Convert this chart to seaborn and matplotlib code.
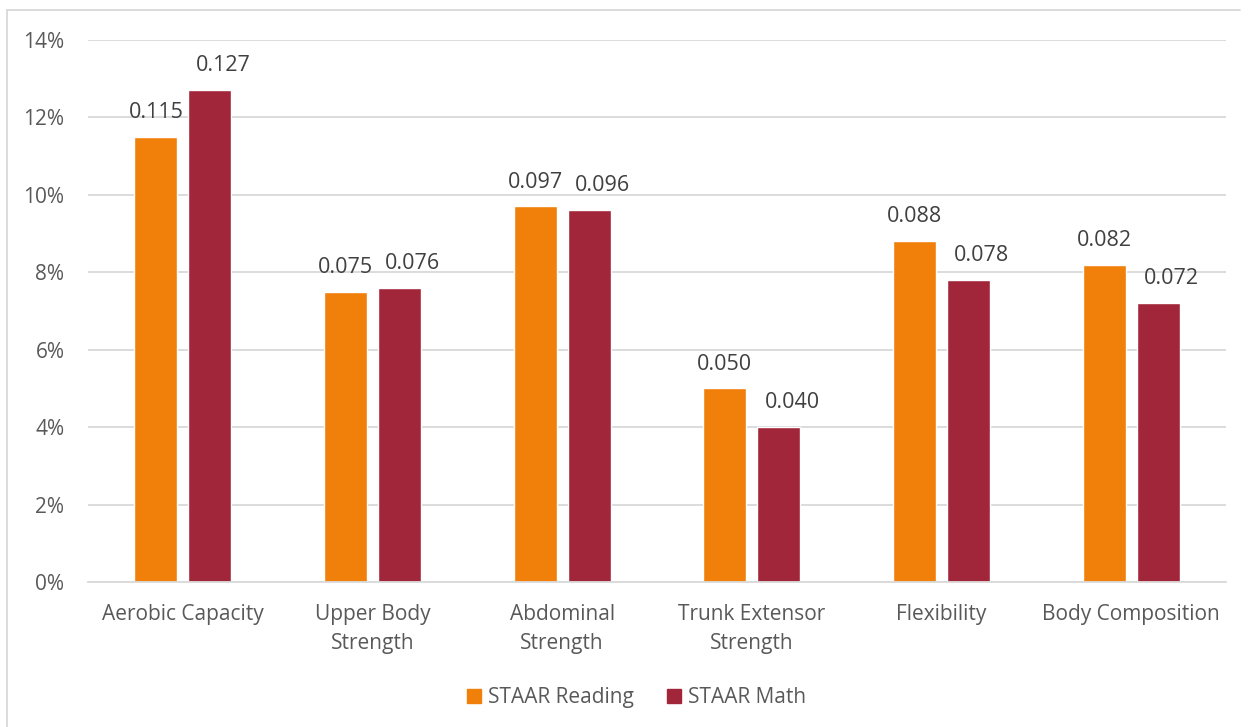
import matplotlib
matplotlib.use("Agg")
import matplotlib.pyplot as plt
import matplotlib.ticker as mticker
from matplotlib.lines import Line2D
import pandas as pd
import seaborn as sns

categories = ["Aerobic Capacity", "Upper Body\nStrength", "Abdominal\nStrength",
              "Trunk Extensor\nStrength", "Flexibility", "Body Composition"]
reading = [0.115, 0.075, 0.097, 0.050, 0.088, 0.082]
math = [0.127, 0.076, 0.096, 0.040, 0.078, 0.072]
series = ["STAAR Reading", "STAAR Math"]
colors = ["#F0800A", "#A22639"]
y_ticks = [0, 0.02, 0.04, 0.06, 0.08, 0.10, 0.12, 0.14]

df = pd.DataFrame({
    "category": categories * 2,
    "value": reading + math,
    "series": [series[0]] * len(categories) + [series[1]] * len(categories),
})

sns.set_theme(style="white")
plt.rcParams["font.family"] = ["Open Sans", "DejaVu Sans"]
text_color = "#595959"
grid_color = "#D9D9D9"
fs = 15

fig = plt.figure(figsize=(12.5, 7.27), dpi=100)
ax = fig.add_axes([0.0704, 0.1994, 0.9104, 0.7456])

sns.barplot(data=df, x="category", y="value", hue="series", palette=colors,
            width=0.568, gap=0.2, ax=ax, legend=False, saturation=1)

# value labels; the second series' labels are nudged right so neighbours don't collide
label_pad = 10
for i, cont in enumerate(ax.containers):
    anns = ax.bar_label(cont, fmt="%.3f", padding=label_pad, fontsize=fs + 0.5,
                        color="#404040")
    if i == 1:
        for a in anns:
            a.xyann = (9.5, label_pad)

ax.set_ylim(0, 0.14)
ax.set_xlim(-0.5, len(categories) - 0.5)
ax.set_yticks(y_ticks)
ax.yaxis.set_major_formatter(mticker.PercentFormatter(1.0, decimals=0))
ax.grid(axis="y", color=grid_color, linewidth=1.3)
ax.set_axisbelow(True)
for s in ["top", "right", "left"]:
    ax.spines[s].set_visible(False)
ax.spines["bottom"].set_color(grid_color)
ax.spines["bottom"].set_linewidth(1.3)
ax.tick_params(axis="both", length=0, labelsize=fs, labelcolor=text_color)
ax.tick_params(axis="x", pad=16)
ax.tick_params(axis="y", pad=17)
for lbl in ax.get_xticklabels():
    lbl.set_linespacing(1.5)
ax.set_xlabel("")
ax.set_ylabel("")

handles = [Line2D([0], [0], marker="s", linestyle="", markersize=10,
                  markerfacecolor=c, markeredgecolor=c) for c in colors]
fig.legend(handles, series, loc="center", bbox_to_anchor=(0.508, 0.04), ncol=2,
           frameon=False, fontsize=fs, labelcolor=text_color,
           handletextpad=0.2, columnspacing=1.4, handlelength=1.0)

# chart frame
fig.add_artist(Line2D([0.0056, 0.0056], [0, 0.9862], color=grid_color, lw=1.3,
                      transform=fig.transFigure))
fig.add_artist(Line2D([0.0056, 0.992], [0.9862, 0.9862], color=grid_color, lw=1.3,
                      transform=fig.transFigure))

fig.savefig("out.png", dpi=100, facecolor="white")
